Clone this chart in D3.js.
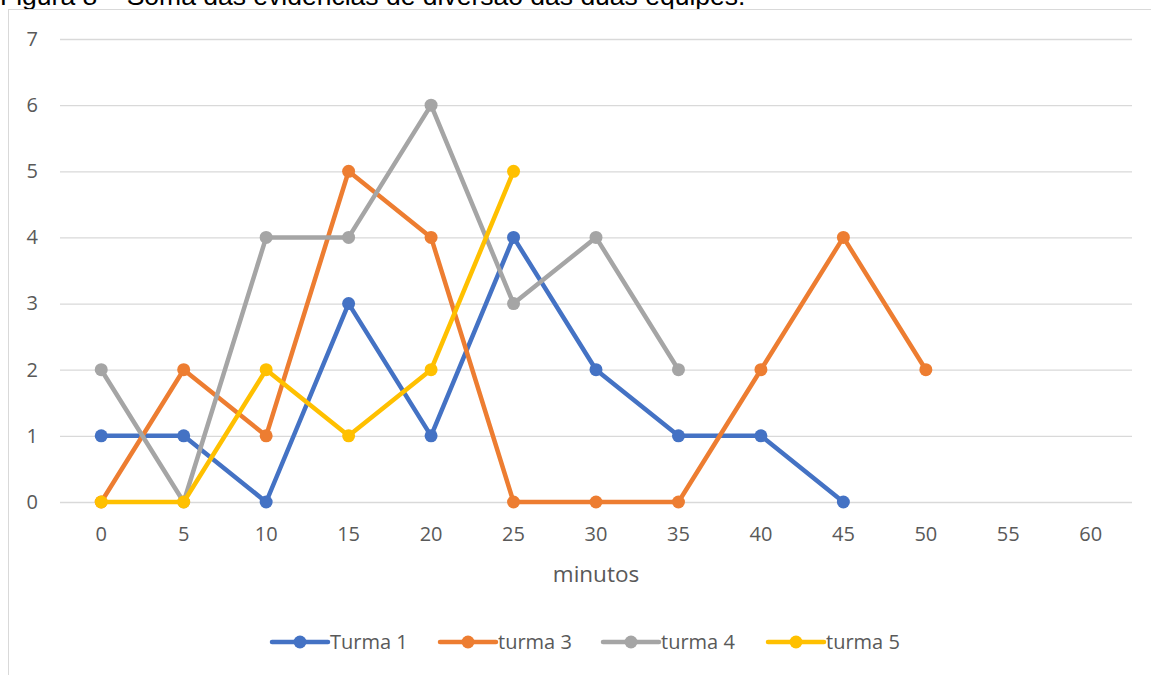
<!DOCTYPE html>
<html>
<head>
<meta charset="utf-8">
<script src="https://cdn.jsdelivr.net/npm/d3@7"></script>
<style>
  html, body { margin: 0; padding: 0; background: #fff; }
  svg { display: block; }
</style>
</head>
<body>
<svg id="chart" width="1151" height="675"></svg>
<script>
// Minutes on the category axis
const minutes = ["0", "5", "10", "15", "20", "25", "30", "35", "40", "45", "50", "55", "60"];
const yTicks = [0, 1, 2, 3, 4, 5, 6, 7];

// Evidence counts per class, one value per minute (missing tail = no data)
const turma1 = [1, 1, 0, 3, 1, 4, 2, 1, 1, 0];
const turma3 = [0, 2, 1, 5, 4, 0, 0, 0, 2, 4, 2];
const turma4 = [2, 0, 4, 4, 6, 3, 4, 2];
const turma5 = [0, 0, 2, 1, 2, 5];

const seriesNames = ["Turma 1", "turma 3", "turma 4", "turma 5"];
const seriesValues = [turma1, turma3, turma4, turma5];
const seriesColors = ["#4472C4", "#ED7D31", "#A5A5A5", "#FFC000"];

const svg = d3.select("#chart");
const W = 1151, H = 675;
const plot = { left: 60, right: 1132, top: 39, bottom: 502 };

// Caption above the chart frame (its lower part is hidden by the frame)
svg.append("text")
  .attr("x", 0).attr("y", 5)
  .attr("font-family", "Liberation Sans, Arial, sans-serif")
  .attr("font-size", 26.5)
  .attr("fill", "#000")
  .text("Figura 8 – Soma das evidências de diversão das duas equipes.");

// Chart frame
svg.append("rect")
  .attr("x", 8.5).attr("y", 9.5)
  .attr("width", W + 10).attr("height", H + 10)
  .attr("fill", "#fff")
  .attr("stroke", "#D9D9D9").attr("stroke-width", 1);

const x = d3.scaleBand().domain(minutes).range([plot.left, plot.right]);
const y = d3.scaleLinear().domain([0, 7]).range([plot.bottom, plot.top]);
const cx = i => x(minutes[i]) + x.bandwidth() / 2;

const labelFont = "Open Sans, Liberation Sans, sans-serif";

// Horizontal gridlines
svg.append("g")
  .selectAll("line").data(yTicks).join("line")
  .attr("x1", plot.left).attr("x2", plot.right)
  .attr("y1", d => y(d) + 0.5).attr("y2", d => y(d) + 0.5)
  .attr("stroke", "#D9D9D9").attr("stroke-width", 1.3);

// Y axis labels
const yAxis = d3.axisLeft(y).tickValues(yTicks).tickFormat(d3.format("d")).tickSize(0).tickPadding(0);
const gy = svg.append("g").attr("transform", "translate(38,0)").call(yAxis);
gy.select(".domain").remove();
gy.selectAll("text")
  .attr("font-family", labelFont).attr("font-size", 20)
  .attr("fill", "#595959").attr("text-anchor", "end");

// X axis labels
const xAxis = d3.axisBottom(x).tickSize(0).tickPadding(0);
const gx = svg.append("g").attr("transform", `translate(0,${plot.bottom + 25})`).call(xAxis);
gx.select(".domain").remove();
gx.selectAll("text")
  .attr("font-family", labelFont).attr("font-size", 20)
  .attr("fill", "#595959");

// X axis title
svg.append("text")
  .attr("x", (plot.left + plot.right) / 2).attr("y", 582)
  .attr("text-anchor", "middle")
  .attr("font-family", labelFont).attr("font-size", 22.5)
  .attr("fill", "#595959")
  .text("minutos");

// Lines and markers
const line = d3.line().x((d, i) => cx(i)).y(d => y(d));
seriesValues.forEach((vals, s) => {
  const g = svg.append("g");
  g.append("path")
    .datum(vals)
    .attr("d", line)
    .attr("fill", "none")
    .attr("stroke", seriesColors[s])
    .attr("stroke-width", 4.5)
    .attr("stroke-linejoin", "round")
    .attr("stroke-linecap", "round");
  g.selectAll("circle").data(vals).join("circle")
    .attr("cx", (d, i) => cx(i))
    .attr("cy", d => y(d))
    .attr("r", 6.5)
    .attr("fill", seriesColors[s]);
});

// Legend
const legendX = [272, 440, 603, 768];
const legendY = 642;
const lg = svg.append("g");
seriesNames.forEach((name, s) => {
  const x0 = legendX[s];
  lg.append("line")
    .attr("x1", x0).attr("x2", x0 + 56)
    .attr("y1", legendY).attr("y2", legendY)
    .attr("stroke", seriesColors[s]).attr("stroke-width", 4.5)
    .attr("stroke-linecap", "round");
  lg.append("circle")
    .attr("cx", x0 + 28).attr("cy", legendY).attr("r", 6.5)
    .attr("fill", seriesColors[s]);
  lg.append("text")
    .attr("x", x0 + 58).attr("y", legendY + 7)
    .attr("font-family", labelFont).attr("font-size", 20)
    .attr("fill", "#595959")
    .text(name);
});
</script>
</body>
</html>
